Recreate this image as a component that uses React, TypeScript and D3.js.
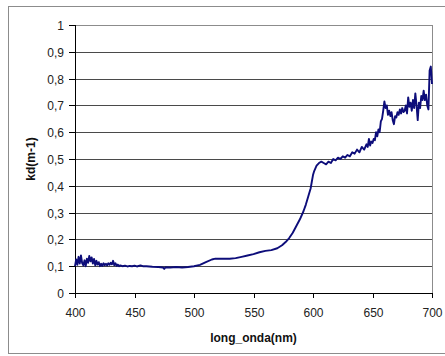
import * as d3 from 'd3';

// wavelength (nm) and kd (m-1)
const wavelengths = [
  400, 401, 402, 403, 404, 405, 406, 407, 408, 409, 410, 411, 412, 413, 414, 415, 416, 417, 418, 419,
  420, 421, 422, 423, 424, 425, 426, 427, 428, 429, 430, 431, 432, 433, 434, 435, 436, 437, 438, 440,
  442, 444, 446, 448, 450, 452, 455, 457, 460, 465, 470, 474, 475, 476, 480, 485, 490, 495, 500, 505,
  510, 515, 518, 525, 530, 535, 540, 545, 550, 555, 560, 565, 570, 574, 577, 580, 583, 586, 589, 592,
  594, 596, 598, 599, 600, 601, 602, 603, 605, 607, 609, 611, 613, 615, 617, 619, 621, 623, 625, 627,
  629, 631, 633, 635, 637, 639, 641, 643, 645, 646, 647, 648, 649, 650, 651, 652, 653, 654, 655, 656,
  657, 658, 659, 660, 661, 662, 663, 664, 665, 666, 667, 668, 669, 670, 671, 672, 673, 674, 675, 676,
  677, 678, 679, 680, 681, 682, 683, 684, 685, 686, 687, 688, 689, 690, 691, 692, 693, 694, 695, 696,
  697, 698, 699, 700,
];
const kdValues = [
  0.1, 0.125, 0.105, 0.135, 0.11, 0.14, 0.112, 0.103, 0.122, 0.1, 0.128, 0.113, 0.138, 0.118, 0.133, 0.11, 0.127, 0.103, 0.12, 0.106,
  0.115, 0.1, 0.109, 0.101, 0.111, 0.104, 0.109, 0.103, 0.111, 0.105, 0.113, 0.107, 0.12, 0.104, 0.111, 0.101, 0.106, 0.1, 0.103, 0.1,
  0.102, 0.099, 0.101, 0.1, 0.102, 0.099, 0.103, 0.1, 0.1, 0.098, 0.097, 0.095, 0.09, 0.096, 0.095, 0.097, 0.095, 0.097, 0.1, 0.105,
  0.115, 0.125, 0.128, 0.128, 0.128, 0.13, 0.135, 0.14, 0.145, 0.152, 0.157, 0.16, 0.167, 0.178, 0.19, 0.205, 0.225, 0.25, 0.275, 0.305,
  0.33, 0.36, 0.39, 0.415, 0.44, 0.455, 0.465, 0.475, 0.485, 0.49, 0.485, 0.48, 0.49, 0.485, 0.5, 0.495, 0.505, 0.5, 0.51, 0.505,
  0.515, 0.51, 0.525, 0.52, 0.535, 0.525, 0.545, 0.535, 0.555, 0.545, 0.575, 0.55, 0.565, 0.56, 0.575, 0.57, 0.6, 0.585, 0.61, 0.6,
  0.64, 0.65, 0.68, 0.715, 0.69, 0.7, 0.665, 0.68, 0.66, 0.675, 0.645, 0.63, 0.66, 0.655, 0.675, 0.665, 0.685, 0.67, 0.69, 0.675,
  0.68, 0.7, 0.67, 0.73, 0.695, 0.71, 0.68, 0.72, 0.69, 0.745, 0.7, 0.645, 0.71, 0.69, 0.735, 0.72, 0.755, 0.72, 0.74, 0.7,
  0.685, 0.83, 0.845, 0.78,
];
const xTicks = [400, 450, 500, 550, 600, 650, 700];
const yTicks = [0, 0.1, 0.2, 0.3, 0.4, 0.5, 0.6, 0.7, 0.8, 0.9, 1];

export default function App() {
  const width = 445;
  const height = 356;
  const margin = { top: 25, right: 13, bottom: 63, left: 75 };
  const innerW = width - margin.left - margin.right;
  const innerH = height - margin.top - margin.bottom;

  const x = d3.scaleLinear().domain([400, 700]).range([0, innerW]);
  const y = d3.scaleLinear().domain([0, 1]).range([innerH, 0]);

  const points = wavelengths.map((w, i) => [w, kdValues[i]] as [number, number]);
  const line = d3.line<[number, number]>()
    .x(d => x(d[0]))
    .y(d => y(d[1]));

  const fmt = (v: number) => (v === 0 || v === 1 ? String(v) : v.toFixed(1).replace('.', ','));
  const font = '"Liberation Sans", Arial, sans-serif';

  return (
    <div style={{ position: 'fixed', left: 0, top: 0 }}>
      <svg width={width} height={height} style={{ display: 'block', background: '#fff' }}>
        <rect x={8.5} y={6.5} width={440} height={347} fill="none" stroke="#8c8c8c" />
        <g transform={`translate(${margin.left},${margin.top})`}>
          {/* gridlines */}
          {yTicks.map(t => (
            <line key={t} x1={0} x2={innerW} y1={Math.round(y(t)) + 0.5} y2={Math.round(y(t)) + 0.5}
              stroke={t === 1 ? '#8c8c8c' : '#4a4a4a'} strokeWidth={1} />
          ))}
          <line x1={Math.round(innerW) + 0.5} x2={Math.round(innerW) + 0.5} y1={0} y2={innerH} stroke="#8c8c8c" />
          {/* y axis */}
          <line x1={0.5} x2={0.5} y1={0} y2={innerH} stroke="#000" />
          {yTicks.map(t => (
            <g key={t} transform={`translate(0,${Math.round(y(t)) + 0.5})`}>
              <line x1={-6} x2={0} stroke="#000" />
              <text x={-11} dy="0.35em" textAnchor="end" fontFamily={font} fontSize={12} fill="#222">{fmt(t)}</text>
            </g>
          ))}
          {/* x axis */}
          <line x1={0} x2={innerW} y1={Math.round(innerH) + 0.5} y2={Math.round(innerH) + 0.5} stroke="#000" />
          {xTicks.map(t => (
            <g key={t} transform={`translate(${Math.round(x(t)) + 0.5},${innerH})`}>
              <line y1={0} y2={5} stroke="#000" />
              <text y={24} textAnchor="middle" fontFamily={font} fontSize={12} fill="#222">{t}</text>
            </g>
          ))}
          {/* data */}
          <path d={line(points) || ''} fill="none" stroke="#0d0d7a" strokeWidth={1.9} strokeLinejoin="round" />
          {/* titles */}
          <text x={innerW / 2} y={innerH + 49} textAnchor="middle" fontFamily={font} fontSize={12}
            fontWeight="bold" fill="#111">long_onda(nm)</text>
          <text transform={`translate(${-40},${innerH / 2}) rotate(-90)`} textAnchor="middle" fontFamily={font}
            fontSize={12} fontWeight="bold" fill="#111">kd(m-1)</text>
        </g>
      </svg>
    </div>
  );
}
